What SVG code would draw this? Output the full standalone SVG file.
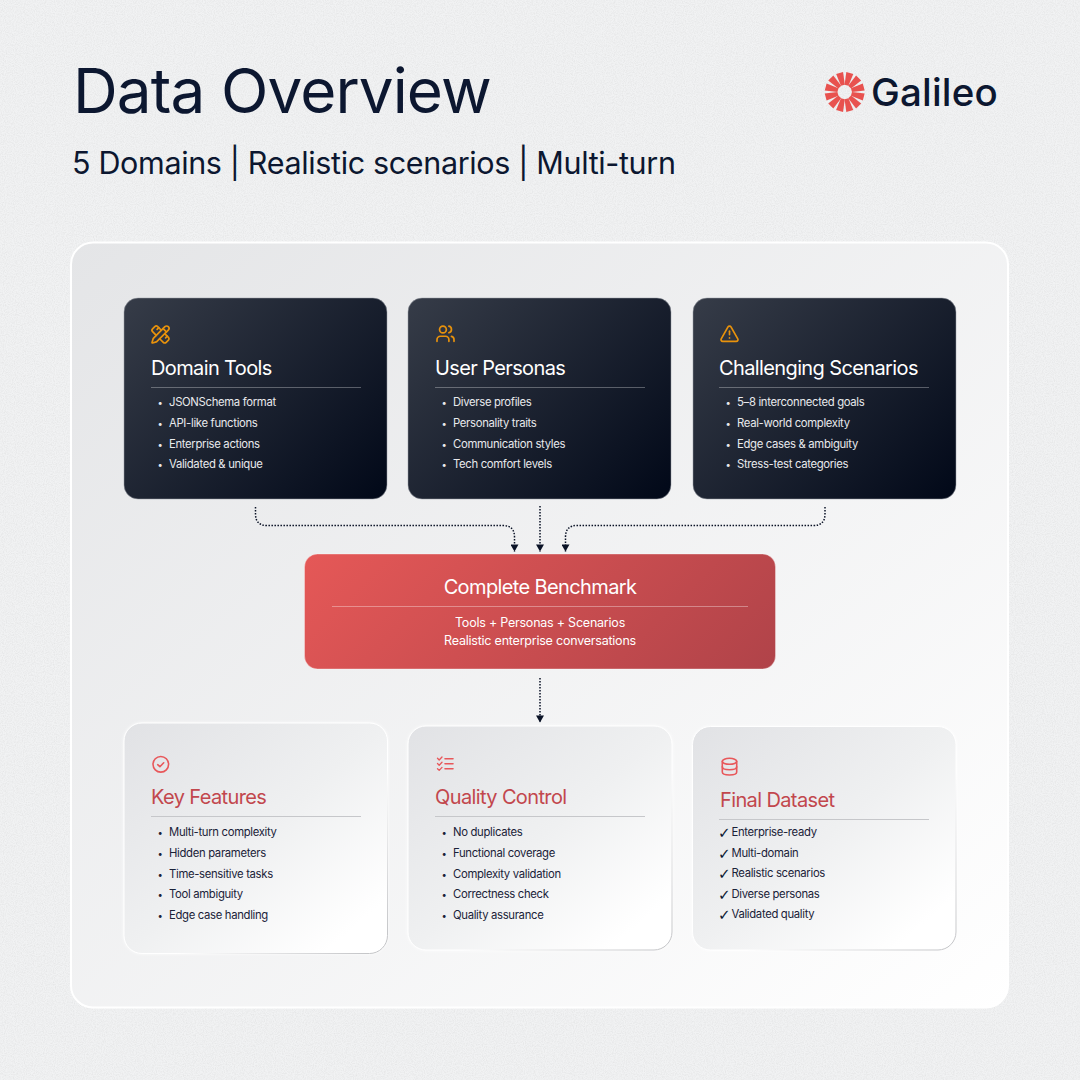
<svg xmlns="http://www.w3.org/2000/svg" width="1080" height="1080" viewBox="0 0 1080 1080">
<style>
text{font-family:"Inter","Liberation Sans",sans-serif}
.h1{font-size:62px;fill:#0c1730;letter-spacing:-.9px}
.sub{font-size:30.5px;fill:#0c1730;letter-spacing:-.35px}
.logo{font-size:38.5px;font-weight:450;fill:#0c1730;letter-spacing:.2px}
.t{font-size:20px;letter-spacing:-.62px}
.w{fill:#fff}.r{fill:#c2474d}
.li{font-size:11.3px;letter-spacing:-.32px}
.b{font-size:9.5px}
.ck{font-size:15px;font-family:"DejaVu Sans",sans-serif;fill:#0c1730}
.cb{font-size:12.5px;letter-spacing:-.22px;fill:#fff}
.lw{fill:#e8e9ec}.ld{fill:#1a2238}
.rw{stroke:#fff;stroke-opacity:.3;stroke-width:1}
.rd{stroke:#c6c7ca;stroke-width:1}
.ic{fill:none;stroke-width:1.6;stroke-linecap:round;stroke-linejoin:round}
.lu{stroke-width:2}
.o{stroke:#e8920c}.c{stroke:#e8575a}
.dot{fill:none;stroke:#0a1226;stroke-width:1.5;stroke-dasharray:1.5 1.5}
.card{stroke:url(#edge);filter:url(#sh)}
.dk{stroke:#9a9ea6;stroke-opacity:.5}
</style>
<defs>
<linearGradient id="panel" x1="0" y1="0" x2="1" y2="1"><stop offset="0" stop-color="#e4e5e7"/><stop offset="1" stop-color="#ffffff"/></linearGradient>
<linearGradient id="d1" gradientUnits="userSpaceOnUse" x1="139.500" y1="282.500" x2="371.500" y2="514.500"><stop offset="0" stop-color="#363c48"/><stop offset="1" stop-color="#010818"/></linearGradient>
<linearGradient id="d2" href="#d1" gradientTransform="translate(284 0)"/>
<linearGradient id="d3" href="#d1" gradientTransform="translate(569 0)"/>
<linearGradient id="red" gradientUnits="userSpaceOnUse" x1="393.500" y1="465" x2="686.500" y2="758"><stop offset="0" stop-color="#e55857"/><stop offset="1" stop-color="#b04349"/></linearGradient>
<linearGradient id="light" x1="0" y1="0" x2="1" y2="1"><stop offset="0" stop-color="#e1e2e5"/><stop offset=".5" stop-color="#eff0f1"/><stop offset=".88" stop-color="#ffffff"/></linearGradient>
<linearGradient id="edge" x1="0" y1="0" x2="1" y2="1"><stop offset="0" stop-color="#ffffff"/><stop offset=".6" stop-color="#ffffff"/><stop offset="1" stop-color="#bfc0c3"/></linearGradient>
<marker id="arrow" viewBox="0 0 8 8" refX="7.500" refY="4" markerWidth="8" markerHeight="8" markerUnits="userSpaceOnUse" orient="auto"><path d="M0.500 0L7.500 4L0.500 8Z" fill="#0a1226"/></marker>
<filter id="sh" x="-5%" y="-5%" width="110%" height="110%"><feDropShadow dx="0" dy="0" stdDeviation="1.500" flood-color="#fff" flood-opacity=".8"/></filter>
<filter id="grain" x="0" y="0" width="100%" height="100%"><feTurbulence type="fractalNoise" baseFrequency=".9" numOctaves="2" seed="4"/><feColorMatrix values="0 0 0 0 .55  0 0 0 0 .55  0 0 0 0 .55  .5 0 0 0 -.18"/></filter>
<path id="sp" d="M-3.600-19.700H3.600L2-7H-2Z"/>
</defs>
<rect width="1080" height="1080" fill="#f1f2f3"/>
<rect width="1080" height="1080" filter="url(#grain)"/>
<g id="header">
<text class="h1" x="73" y="113">Data Overview</text>
<text class="sub" x="72" y="174">5 Domains | Realistic scenarios | Multi-turn</text>
</g>
<g id="logo">
<g fill="#e8524f" transform="translate(844.700 92)">
<use href="#sp" transform="rotate(15)"/><use href="#sp" transform="rotate(45)"/><use href="#sp" transform="rotate(75)"/><use href="#sp" transform="rotate(105)"/><use href="#sp" transform="rotate(135)"/><use href="#sp" transform="rotate(165)"/><use href="#sp" transform="rotate(195)"/><use href="#sp" transform="rotate(225)"/><use href="#sp" transform="rotate(255)"/><use href="#sp" transform="rotate(285)"/><use href="#sp" transform="rotate(315)"/><use href="#sp" transform="rotate(345)"/>
</g>
<text class="logo" x="871" y="105.500">Galileo</text>
</g>
<rect id="panel-bg" x="71" y="242.500" width="937" height="765" rx="22" fill="url(#panel)" stroke="#fff" stroke-width="2"/>
<g id="connectors">
<path class="dot" d="M255.500 507V514Q255.500 525.500 267 525.500H503Q514.500 525.500 514.500 537V551.500" marker-end="url(#arrow)"/>
<path class="dot" d="M540 506V551.500" marker-end="url(#arrow)"/>
<path class="dot" d="M825 507V514Q825 525.500 813.500 525.500H577Q565.500 525.500 565.500 537V551.500" marker-end="url(#arrow)"/>
<path class="dot" d="M540 678V722.500" marker-end="url(#arrow)"/>
</g>
<g id="domain-tools">
<rect class="dk" x="124" y="298" width="263" height="201" rx="14" fill="url(#d1)"/>
<g class="ic o lu" transform="translate(150.300 324.300) scale(.85)"><path d="M13 7 8.700 2.700a2.410 2.410 0 0 0-3.400 0L2.700 5.300a2.410 2.410 0 0 0 0 3.400L7 13"/><path d="m8 6 2-2"/><path d="m18 16 2-2"/><path d="m17 11 4.300 4.300c.94.94.94 2.460 0 3.400l-2.600 2.600c-.94.94-2.460.94-3.400 0L11 17"/><path d="M21.174 6.812a1 1 0 0 0-3.986-3.987L3.842 16.174a2 2 0 0 0-.5.83l-1.321 4.352a.5.5 0 0 0 .623.622l4.353-1.320a2 2 0 0 0 .83-.497z"/><path d="m15 5 4 4"/></g>
<text class="t w" x="151" y="375">Domain Tools</text>
<line class="rw" x1="151" y1="387.500" x2="361" y2="387.500"/>
<text class="b lw" x="157.500" y="405.500">•</text><text class="li lw" x="169" y="406">JSONSchema format</text>
<text class="b lw" x="157.500" y="426.500">•</text><text class="li lw" x="169" y="427">API-like functions</text>
<text class="b lw" x="157.500" y="447.500">•</text><text class="li lw" x="169" y="448">Enterprise actions</text>
<text class="b lw" x="157.500" y="467.500">•</text><text class="li lw" x="169" y="468">Validated &amp; unique</text>
</g>
<g id="user-personas">
<rect class="dk" x="408" y="298" width="263" height="201" rx="14" fill="url(#d2)"/>
<g class="ic o lu" transform="translate(435.300 323.500) scale(.85)"><path d="M16 21v-2a4 4 0 0 0-4-4H6a4 4 0 0 0-4 4v2"/><circle cx="9" cy="7" r="4"/><path d="M22 21v-2a4 4 0 0 0-3-3.870"/><path d="M16 3.130a4 4 0 0 1 0 7.750"/></g>
<text class="t w" x="435" y="375">User Personas</text>
<line class="rw" x1="435" y1="387.500" x2="645" y2="387.500"/>
<text class="b lw" x="441.500" y="405.500">•</text><text class="li lw" x="453" y="406">Diverse profiles</text>
<text class="b lw" x="441.500" y="426.500">•</text><text class="li lw" x="453" y="427">Personality traits</text>
<text class="b lw" x="441.500" y="447.500">•</text><text class="li lw" x="453" y="448">Communication styles</text>
<text class="b lw" x="441.500" y="467.500">•</text><text class="li lw" x="453" y="468">Tech comfort levels</text>
</g>
<g id="challenging-scenarios">
<rect class="dk" x="693" y="298" width="263" height="201" rx="14" fill="url(#d3)"/>
<g class="ic o lu" transform="translate(719.300 323.500) scale(.85)"><path d="m21.730 18-8-14a2 2 0 0 0-3.480 0l-8 14A2 2 0 0 0 4 21h16a2 2 0 0 0 1.730-3"/><path d="M12 9v4"/><path d="M12 17h.01"/></g>
<text class="t w" x="719" y="375">Challenging Scenarios</text>
<line class="rw" x1="719" y1="387.500" x2="929" y2="387.500"/>
<text class="b lw" x="725.500" y="405.500">•</text><text class="li lw" x="737" y="406">5–8 interconnected goals</text>
<text class="b lw" x="725.500" y="426.500">•</text><text class="li lw" x="737" y="427">Real-world complexity</text>
<text class="b lw" x="725.500" y="447.500">•</text><text class="li lw" x="737" y="448">Edge cases &amp; ambiguity</text>
<text class="b lw" x="725.500" y="467.500">•</text><text class="li lw" x="737" y="468">Stress-test categories</text>
</g>
<g id="complete-benchmark">
<rect x="304.500" y="554" width="471" height="115" rx="13" fill="url(#red)" stroke="#fff" stroke-opacity=".35"/>
<text class="t w" x="540" y="594" text-anchor="middle">Complete Benchmark</text>
<line x1="332" y1="606.500" x2="748" y2="606.500" stroke="#fff" stroke-opacity=".35"/>
<text class="cb" x="540" y="627" text-anchor="middle">Tools + Personas + Scenarios</text>
<text class="cb" x="540" y="645" text-anchor="middle">Realistic enterprise conversations</text>
</g>
<g id="key-features">
<rect class="card" x="124" y="723" width="263.500" height="230.500" rx="18" fill="url(#light)"/>
<g class="ic c"><circle cx="160.800" cy="764.300" r="7.800"/><path d="M157.700 764.700l2.200 2 3.800-3.900"/></g>
<text class="t r" x="151" y="804">Key Features</text>
<line class="rd" x1="151" y1="816.500" x2="361" y2="816.500"/>
<text class="b ld" x="157.500" y="835.500">•</text><text class="li ld" x="169" y="836">Multi-turn complexity</text>
<text class="b ld" x="157.500" y="856.500">•</text><text class="li ld" x="169" y="857">Hidden parameters</text>
<text class="b ld" x="157.500" y="877.500">•</text><text class="li ld" x="169" y="878">Time-sensitive tasks</text>
<text class="b ld" x="157.500" y="897.500">•</text><text class="li ld" x="169" y="898">Tool ambiguity</text>
<text class="b ld" x="157.500" y="918.500">•</text><text class="li ld" x="169" y="919">Edge case handling</text>
</g>
<g id="quality-control">
<rect class="card" x="408" y="726" width="264" height="224" rx="18" fill="url(#light)"/>
<g class="ic c"><path d="M437.500 758.300l1.700 1.700 2.800-3M437.500 763.500l1.700 1.700 2.800-3M437.500 768.700l1.700 1.700 2.800-3" stroke-width="1.300"/><path d="M445 758.700h8M445 763.700h8M445 768.700h8"/></g>
<text class="t r" x="435" y="804">Quality Control</text>
<line class="rd" x1="435" y1="816.500" x2="645" y2="816.500"/>
<text class="b ld" x="441.500" y="835.500">•</text><text class="li ld" x="453" y="836">No duplicates</text>
<text class="b ld" x="441.500" y="856.500">•</text><text class="li ld" x="453" y="857">Functional coverage</text>
<text class="b ld" x="441.500" y="877.500">•</text><text class="li ld" x="453" y="878">Complexity validation</text>
<text class="b ld" x="441.500" y="897.500">•</text><text class="li ld" x="453" y="898">Correctness check</text>
<text class="b ld" x="441.500" y="918.500">•</text><text class="li ld" x="453" y="919">Quality assurance</text>
</g>
<g id="final-dataset">
<rect class="card" x="692.500" y="726.500" width="263.500" height="223.500" rx="18" fill="url(#light)"/>
<g class="ic c"><ellipse cx="729.500" cy="761.300" rx="7.200" ry="3"/><path d="M722.300 761.300v10.700c0 1.700 3.200 3 7.200 3s7.200-1.300 7.200-3v-10.700"/><path d="M722.300 766.700c0 1.700 3.200 3 7.200 3s7.200-1.300 7.200-3"/></g>
<text class="t r" x="720" y="807">Final Dataset</text>
<line class="rd" x1="719" y1="819.500" x2="929" y2="819.500"/>
<text class="ck" x="718" y="837.500">✓</text><text class="li ld" x="731.500" y="836">Enterprise-ready</text>
<text class="ck" x="718" y="858.500">✓</text><text class="li ld" x="731.500" y="857">Multi-domain</text>
<text class="ck" x="718" y="878.500">✓</text><text class="li ld" x="731.500" y="877">Realistic scenarios</text>
<text class="ck" x="718" y="899.500">✓</text><text class="li ld" x="731.500" y="898">Diverse personas</text>
<text class="ck" x="718" y="919.500">✓</text><text class="li ld" x="731.500" y="918">Validated quality</text>
</g>
</svg>
